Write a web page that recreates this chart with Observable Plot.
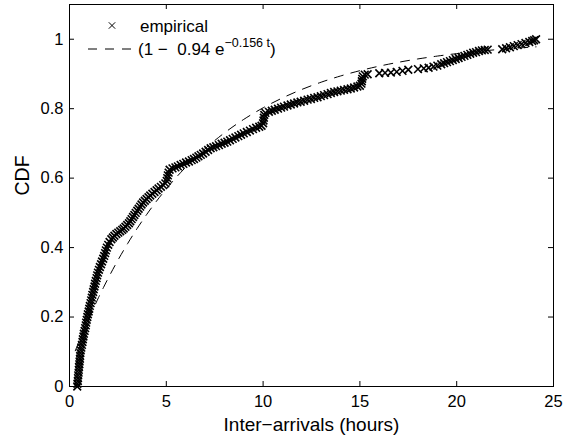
<!DOCTYPE html>
<html><head><meta charset="utf-8">
<script src="https://cdn.jsdelivr.net/npm/d3@7"></script>
<script src="https://cdn.jsdelivr.net/npm/@observablehq/plot@0.6"></script>
<style>body{margin:0;background:#fff} svg{display:block}</style>
</head><body><div id="chart"></div>
<script>
const xTicks = [0, 5, 10, 15, 20, 25];
const yTicks = [0, 0.2, 0.4, 0.6, 0.8, 1];
const xLabel = "Inter\u2212arrivals (hours)";
const yLabel = "CDF";
const legendEmpirical = "empirical";
const fitA = 0.94;
const fitB = 0.156;
const fitHours = [0.3, 0.45, 0.6, 0.8, 1, 1.25, 1.5, 1.75, 2, 2.5, 3, 3.5, 4, 4.5, 5, 6, 7, 8, 9, 10, 11, 12, 13, 14, 15, 16, 17, 18, 19, 20, 21, 22, 23, 24.1];
// empirical CDF points [hours, cdf]
const empiricalPoints = [
[0.40,0.000],[0.41,0.008],[0.43,0.016],[0.44,0.024],[0.45,0.032],[0.47,0.040],[0.48,0.048],[0.49,0.056],
[0.51,0.064],[0.52,0.072],[0.54,0.080],[0.55,0.088],[0.56,0.096],[0.58,0.104],[0.61,0.112],[0.64,0.120],
[0.67,0.128],[0.69,0.136],[0.72,0.144],[0.74,0.152],[0.78,0.160],[0.81,0.168],[0.84,0.176],[0.86,0.184],
[0.89,0.192],[0.92,0.200],[0.95,0.208],[0.99,0.216],[1.02,0.224],[1.05,0.232],[1.09,0.240],[1.12,0.248],
[1.15,0.256],[1.18,0.264],[1.22,0.272],[1.25,0.280],[1.29,0.288],[1.32,0.296],[1.36,0.304],[1.40,0.312],
[1.43,0.320],[1.47,0.328],[1.52,0.336],[1.57,0.344],[1.63,0.352],[1.68,0.360],[1.74,0.368],[1.79,0.376],
[1.84,0.384],[1.88,0.392],[1.93,0.400],[2.00,0.408],[2.07,0.416],[2.16,0.424],
[2.24,0.429],[2.32,0.434],[2.42,0.439],[2.52,0.443],[2.62,0.447],[2.72,0.451],[2.80,0.455],[2.89,0.460],
[2.98,0.465],[3.07,0.470],[3.14,0.476],[3.21,0.482],[3.28,0.488],[3.35,0.494],[3.42,0.500],[3.50,0.506],
[3.57,0.512],[3.65,0.518],[3.72,0.524],[3.80,0.530],[3.89,0.535],[3.98,0.540],[4.08,0.545],[4.17,0.550],
[4.28,0.555],[4.39,0.560],[4.50,0.565],[4.60,0.570],[4.72,0.575],[4.84,0.580],[4.95,0.585],[5.02,0.592],
[5.05,0.600],[5.08,0.608],[5.12,0.616],[5.17,0.624],
[5.32,0.628],[5.47,0.631],[5.60,0.634],[5.74,0.638],[5.88,0.641],[6.02,0.645],[6.17,0.648],[6.31,0.652],
[6.43,0.655],[6.55,0.659],[6.66,0.663],[6.78,0.667],[6.90,0.671],[7.03,0.676],[7.16,0.681],[7.29,0.686],
[7.43,0.689],[7.57,0.692],[7.72,0.695],[7.86,0.699],[8.01,0.702],[8.15,0.705],[8.29,0.709],[8.43,0.713],
[8.57,0.717],[8.72,0.721],[8.86,0.725],[9.00,0.729],[9.16,0.733],[9.32,0.737],[9.48,0.741],[9.64,0.745],
[9.80,0.748],[9.92,0.751],[10.00,0.758],[10.02,0.766],[10.04,0.774],[10.06,0.782],[10.12,0.788],
[10.30,0.791],[10.45,0.794],[10.60,0.797],[10.77,0.800],[10.93,0.803],[11.08,0.806],[11.26,0.809],[11.43,0.812],
[11.60,0.815],[11.77,0.818],[11.94,0.820],[12.12,0.823],[12.30,0.826],[12.47,0.828],[12.64,0.831],[12.81,0.833],
[12.98,0.836],[13.15,0.839],[13.33,0.842],[13.50,0.845],[13.67,0.848],[13.84,0.850],[14.01,0.852],[14.18,0.854],
[14.36,0.856],[14.53,0.858],[14.70,0.861],[14.87,0.864],[15.00,0.866],[15.08,0.872],[15.10,0.879],[15.12,0.886],
[15.15,0.893],[15.25,0.898],
[15.40,0.899],[16.00,0.902],[16.30,0.903],[16.60,0.904],[16.90,0.906],[17.20,0.909],[17.50,0.912],[18.00,0.914],
[18.30,0.916],[18.55,0.918],[18.80,0.921],[19.00,0.924],[19.20,0.928],[19.35,0.931],[19.50,0.934],[19.65,0.937],
[19.80,0.940],[19.95,0.943],[20.10,0.946],[20.25,0.949],[20.40,0.952],[20.55,0.955],[20.70,0.958],[20.85,0.961],
[21.00,0.963],[21.15,0.966],[21.30,0.968],[21.45,0.969],[21.60,0.970],[22.35,0.971],[22.55,0.974],[22.75,0.977],
[22.95,0.980],[23.15,0.983],[23.35,0.986],[23.55,0.989],[23.75,0.992],[23.90,0.995],[24.00,0.997],[24.10,1.000]
];

const W = 563, H = 435, mL = 69, mR = 10, mT = 4, mB = 49;
const xDomain = [0, 25], yDomain = [0, 1.1];
const tickPx = 5;
const dxTick = tickPx * (xDomain[1] - xDomain[0]) / (W - mL - mR);
const dyTick = tickPx * (yDomain[1] - yDomain[0]) / (H - mT - mB);
const font = "'Liberation Sans', Arial, Helvetica, sans-serif";
const fit = fitHours.map(t => ({t, p: 1 - fitA * Math.exp(-fitB * t)}));

const plot = Plot.plot({
  width: W, height: H,
  marginLeft: mL, marginRight: mR, marginTop: mT, marginBottom: mB,
  x: {domain: xDomain, axis: null},
  y: {domain: yDomain, axis: null},
  style: {fontFamily: font, background: "white", color: "black"},
  marks: [
    Plot.frame({stroke: "black", strokeWidth: 1}),
    Plot.ruleX(xTicks, {x: d => d, y1: yDomain[0], y2: yDomain[0] + dyTick, stroke: "black"}),
    Plot.ruleX(xTicks, {x: d => d, y1: yDomain[1], y2: yDomain[1] - dyTick, stroke: "black"}),
    Plot.ruleY(yTicks, {y: d => d, x1: xDomain[0], x2: xDomain[0] + dxTick, stroke: "black"}),
    Plot.ruleY(yTicks, {y: d => d, x1: xDomain[1], x2: xDomain[1] - dxTick, stroke: "black"}),
    Plot.axisX({ticks: xTicks, tickSize: 0, tickPadding: 9, fontSize: 16.5, label: null, tickFormat: d => String(d)}),
    Plot.axisY({ticks: yTicks, tickSize: 0, tickPadding: 6, fontSize: 16.5, label: null, tickFormat: d => String(d)}),
    Plot.line(fit, {x: "t", y: "p", stroke: "black", strokeWidth: 1, strokeDasharray: "9,8", curve: "monotone-x"}),
    Plot.dot(empiricalPoints, {x: d => d[0], y: d => d[1], symbol: "times", r: 3.6, stroke: "black", strokeWidth: 1.6}),
    Plot.text([xLabel], {frameAnchor: "bottom", lineAnchor: "middle", dy: 38, fontSize: 19, text: d => d, fill: "black"}),
    Plot.text([yLabel], {frameAnchor: "left", lineAnchor: "middle", dx: -47, rotate: -90, fontSize: 19.5, text: d => d, fill: "black"})
  ]
});

const svg = d3.select(plot);
const g = svg.append("g").attr("font-family", font).attr("fill", "black").attr("text-anchor", "start");
g.append("path")
  .attr("d", d3.symbol(d3.symbolTimes, 9 * Math.PI)())
  .attr("transform", "translate(112,25.5)")
  .attr("stroke", "black").attr("fill", "none").attr("stroke-width", 1);
g.append("text").attr("x", 140).attr("y", 31.5).attr("font-size", 17).text(legendEmpirical);
g.append("line").attr("x1", 88).attr("x2", 133).attr("y1", 49).attr("y2", 49)
  .attr("stroke", "black").attr("stroke-dasharray", "9,8");
const t2 = g.append("text").attr("x", 138).attr("y", 55).attr("font-size", 17).style("white-space", "pre");
t2.append("tspan").text(`(1 \u2212  ${fitA} e`);
t2.append("tspan").attr("font-size", 12.5).attr("dy", -8.5).text(`\u2212${fitB} t`);
t2.append("tspan").attr("dy", 8.5).text(")");

document.getElementById("chart").appendChild(plot);
</script>
</body></html>
